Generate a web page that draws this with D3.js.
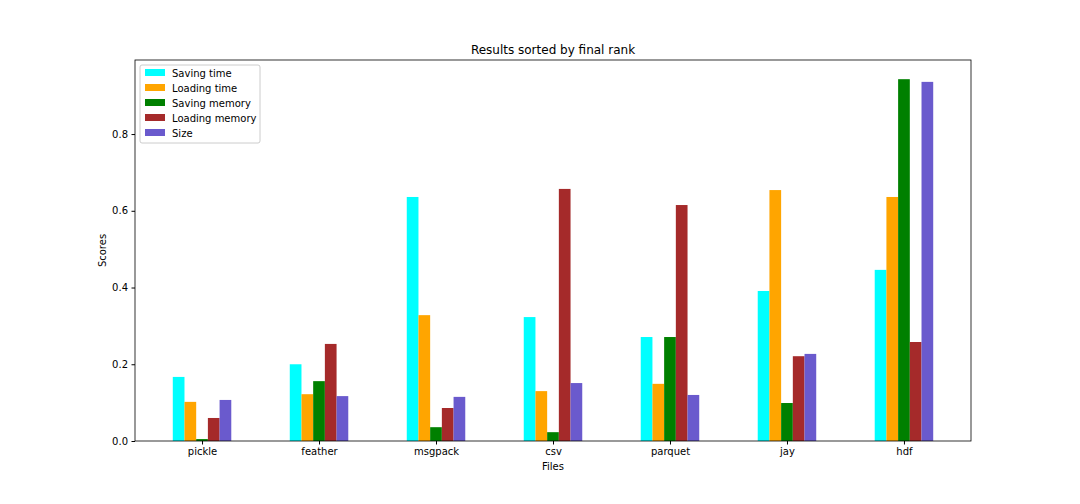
<!DOCTYPE html>
<html><head><meta charset="utf-8">
<script src="https://cdn.jsdelivr.net/npm/d3@7"></script>
<style>body{margin:0;background:#fff;font-family:"DejaVu Sans",sans-serif;}</style>
</head><body><svg id="c" width="1080" height="504"></svg>
<script>
const categories=["pickle","feather","msgpack","csv","parquet","jay","hdf"];
const seriesNames=["Saving time","Loading time","Saving memory","Loading memory","Size"];
const colors=["cyan","orange","green","brown","slateblue"];
const savingTime=[0.167,0.200,0.636,0.323,0.271,0.391,0.446];
const loadingTime=[0.102,0.122,0.328,0.130,0.149,0.654,0.636];
const savingMemory=[0.005,0.156,0.036,0.023,0.271,0.099,0.943];
const loadingMemory=[0.060,0.253,0.086,0.657,0.615,0.221,0.258];
const sizeScore=[0.107,0.117,0.115,0.151,0.120,0.227,0.936];
const yTicks=[0,0.2,0.4,0.6,0.8];
const series=[savingTime,loadingTime,savingMemory,loadingMemory,sizeScore];

const svg=d3.select("#c");
const L=135,R=971,T=60,B=441;
const x=d3.scaleLinear().domain([-0.573,6.573]).range([L,R]);
const y=d3.scaleLinear().domain([0,0.993]).range([B,T]);
const bw=0.1;
series.forEach((s,k)=>{
  svg.selectAll(null).data(s).enter().append("rect")
    .attr("x",(d,i)=>x(i-0.25+k*bw)).attr("width",x(bw)-x(0))
    .attr("y",d=>y(d)).attr("height",d=>B-y(d)).attr("fill",colors[k]);
});
const xa=svg.append("g").attr("transform",`translate(0,${B})`)
  .call(d3.axisBottom(x).tickValues(d3.range(7)).tickFormat(i=>categories[i]).tickSize(3.5).tickPadding(3.5));
const ya=svg.append("g").attr("transform",`translate(${L},0)`)
  .call(d3.axisLeft(y).tickValues(yTicks).tickFormat(d3.format(".1f")).tickSize(3.5).tickPadding(3.5));
[xa,ya].forEach(a=>{a.select(".domain").remove();a.selectAll("text").attr("font-size",10).attr("fill","#000").attr("font-family","DejaVu Sans");a.selectAll("line").attr("stroke","#000");});
svg.append("rect").attr("x",L).attr("y",T).attr("width",R-L).attr("height",B-T).attr("fill","none").attr("stroke","#000").attr("stroke-width",0.8);
svg.append("text").attr("x",(L+R)/2).attr("y",54).attr("text-anchor","middle").attr("font-size",12).text("Results sorted by final rank");
svg.append("text").attr("x",(L+R)/2).attr("y",470).attr("text-anchor","middle").attr("font-size",10).text("Files");
svg.append("text").attr("transform",`translate(106,${(T+B)/2}) rotate(-90)`).attr("text-anchor","middle").attr("font-size",10).text("Scores");
const lg=svg.append("g").attr("transform","translate(140,65)");
lg.append("rect").attr("width",120).attr("height",78).attr("fill","#fff").attr("stroke","#ccc").attr("rx",2);
seriesNames.forEach((n,k)=>{
  lg.append("rect").attr("x",5).attr("y",4+k*15).attr("width",20).attr("height",7).attr("fill",colors[k]);
  lg.append("text").attr("x",32).attr("y",11.5+k*15).attr("font-size",10).text(n);
});
</script></body></html>
